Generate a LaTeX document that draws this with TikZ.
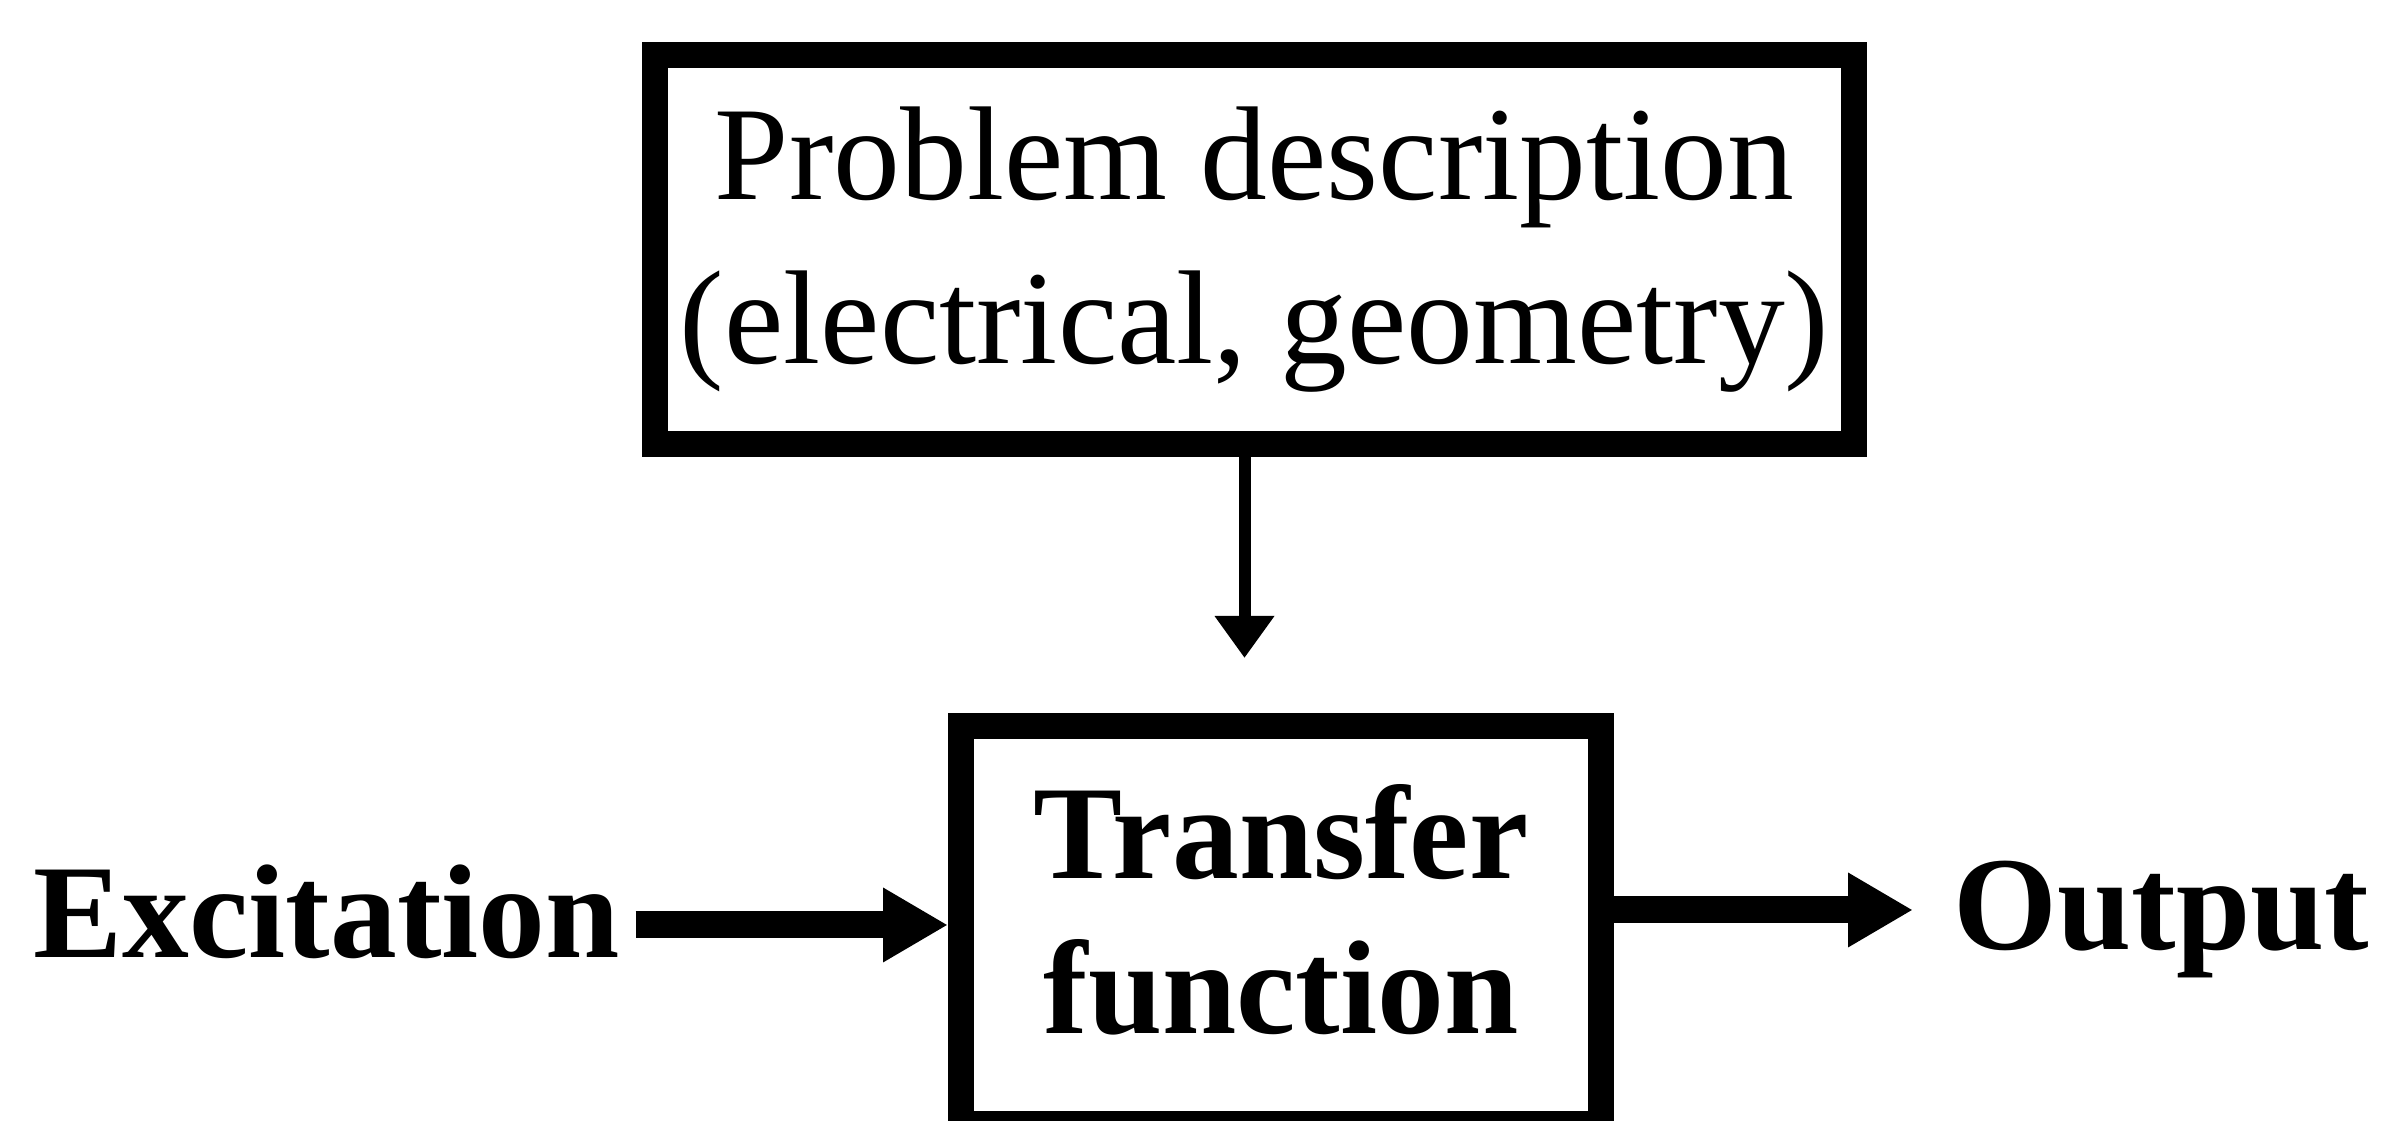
\documentclass[tikz,border=0pt]{standalone}
\usepackage{fontspec}
\setmainfont{Liberation Serif}
\usetikzlibrary{arrows.meta}

\begin{document}
\begin{tikzpicture}[
    block/.style={draw, line width=0.26cm, align=center, inner sep=0pt},
    term/.style={inner sep=0pt, font=\bfseries\fontsize{38}{44}\selectfont},
    fat/.style={line width=0.27cm, -{Triangle[length=0.65cm, width=0.7cm]}},
    feed/.style={line width=0.12cm, -{Triangle[length=0.42cm, width=0.57cm]}}]
  \useasboundingbox (0,0) rectangle (23.81,11.21);
  \node[block, minimum width=11.99cm, minimum height=3.89cm,
        font=\fontsize{38}{46.5}\selectfont] (pd) at (12.545,8.715)
        {Problem description\\(electrical, geometry)};
  \node[block, minimum width=6.40cm, minimum height=3.98cm, text depth=0.32cm,
        font=\bfseries\fontsize{38}{44}\selectfont] (tf) at (12.81,1.96)
        {Transfer\\function};
  \node[term, anchor=base west] (exc) at (0.33,1.63) {Excitation};
  \node[term, anchor=base west] (out) at (19.53,1.71) {Output};
  \draw[feed, shorten >=0.55cm] ([xshift=-0.1cm]pd.south) -- ([xshift=-0.1cm]pd.south |- tf.north);
  \draw[fat] ([xshift=0.15cm]exc.east |- tf.west) -- (tf.west);
  \draw[fat, shorten >=0.4cm] ([yshift=0.15cm]tf.east) -- ([yshift=0.15cm]tf.east -| out.west);
\end{tikzpicture}
\end{document}
